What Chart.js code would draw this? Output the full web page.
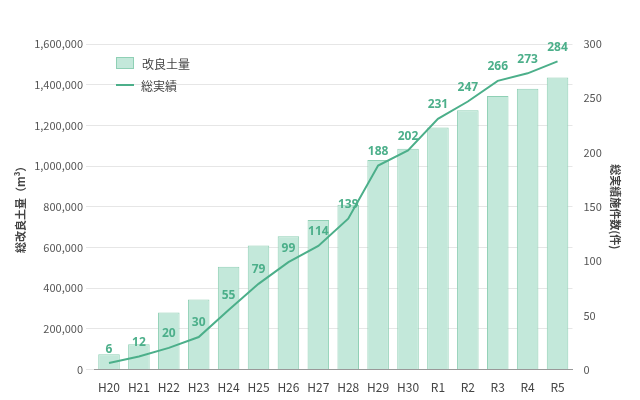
<!DOCTYPE html>
<html><head><meta charset="utf-8">
<script src="https://cdn.jsdelivr.net/npm/chart.js@4"></script>
<style>
body{margin:0;background:#fff;font-family:"Noto Sans CJK JP","Noto Sans",sans-serif}
#wrap{position:relative;width:640px;height:400px}
#legend{position:absolute;left:116px;top:52px;font-size:12px;color:#444}
#legend div{display:flex;align-items:center;height:22px}
.sw{display:inline-block;width:16px;height:10px;background:#c3e8da;border:1px solid #8fd0b5;margin-right:8px}
.ln{display:inline-block;width:18px;height:2px;background:#4caf8a;margin-right:7px}
</style></head><body>
<div id="wrap"><canvas id="c" width="640" height="400"></canvas>
<div id="legend"><div><span class="sw"></span>改良土量</div><div><span class="ln"></span>総実績</div></div></div>
<script>
const labels = ['H20','H21','H22','H23','H24','H25','H26','H27','H28','H29','H30','R1','R2','R3','R4','R5'];
const soilVolume = [75000,125000,280000,345000,505000,610000,655000,735000,810000,1030000,1085000,1190000,1275000,1345000,1380000,1435000];
const totalCount = [6,12,20,30,55,79,99,114,139,188,202,231,247,266,273,284];

const GREEN = '#4caf8a';
const FONT = {family:'"Noto Sans CJK JP","Noto Sans",sans-serif', size:11};

const pointLabels = {
  id:'pointLabels',
  afterDatasetsDraw(chart){
    const ctx = chart.ctx, meta = chart.getDatasetMeta(1);
    ctx.save();
    ctx.fillStyle = GREEN;
    ctx.font = 'bold 12px "Noto Sans","Noto Sans CJK JP",sans-serif';
    ctx.textAlign = 'center';
    ctx.textBaseline = 'bottom';
    meta.data.forEach((p,i) => ctx.fillText(totalCount[i], p.x, p.y - 8));
    ctx.restore();
  }
};

new Chart(document.getElementById('c'), {
  data:{
    labels,
    datasets:[
      {type:'bar', label:'改良土量', data:soilVolume, yAxisID:'y',
       backgroundColor:'#c3e8da', borderColor:'#8fd0b5', borderWidth:1,
       categoryPercentage:0.8, barPercentage:0.9, order:2},
      {type:'line', label:'総実績', data:totalCount, yAxisID:'y1',
       borderColor:GREEN, borderWidth:2, pointRadius:0, tension:0, order:1}
    ]
  },
  options:{
    responsive:false, animation:false,
    layout:{padding:{left:10,right:14,top:44,bottom:2}},
    plugins:{legend:{display:false}, tooltip:{enabled:false}},
    scales:{
      x:{grid:{display:false}, border:{color:'#999'}, ticks:{color:'#444', font:{...FONT, size:12}}},
      y:{position:'left', min:0, max:1600000, ticks:{stepSize:200000, color:'#555', font:FONT,
           callback:v=>v.toLocaleString('en-US')},
         grid:{color:'#e6e6e6'}, border:{display:false},
         title:{display:true, text:'総改良土量（m³）', color:'#444', font:{...FONT, weight:'bold'}}},
      y1:{position:'right', min:0, max:300, ticks:{stepSize:50, color:'#555', font:FONT},
          grid:{display:false}, border:{display:false},
          title:{display:true, text:'総実績施件数(件)', color:'#444', font:{...FONT, weight:'bold'}}}
    }
  },
  plugins:[pointLabels]
});
</script></body></html>
